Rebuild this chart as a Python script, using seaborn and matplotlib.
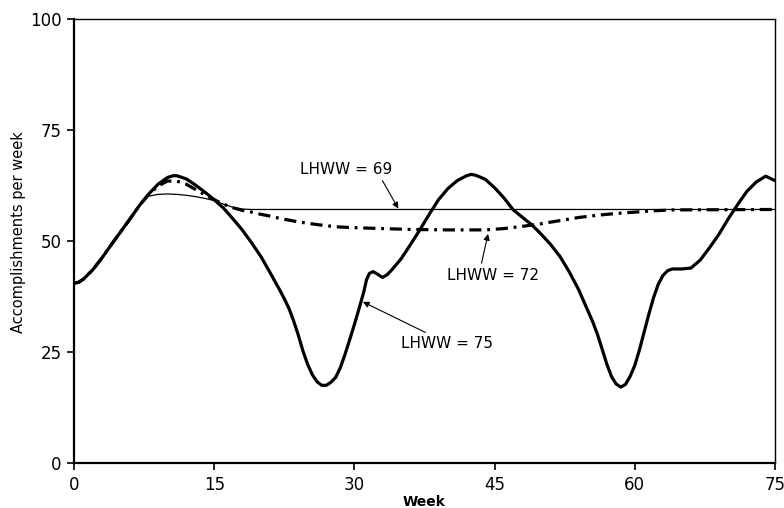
import matplotlib
matplotlib.use("Agg")
import matplotlib.pyplot as plt
import seaborn as sns
import pandas as pd

# ---- data ----
weeks_75 = [0, 0.5, 1, 2, 3, 4, 5, 6, 7, 8, 9, 10, 10.6, 11, 12, 13, 14, 15, 16, 17, 18,
            19, 20, 21, 22, 22.5, 23, 23.5, 24, 24.5, 25, 25.5, 26, 26.5, 27, 27.5, 28,
            28.5, 29, 29.5, 30, 30.5, 31, 31.3, 31.6, 32, 32.5, 33, 33.5, 34, 35, 36,
            37, 38, 39, 40, 41, 42, 42.5, 43, 44, 45, 46, 47, 48, 49, 50, 51, 52, 53,
            54, 55, 55.5, 56, 56.5, 57, 57.5, 58, 58.5, 59, 59.5, 60, 60.5, 61, 61.5,
            62, 62.5, 63, 63.5, 64, 65, 66, 67, 68, 69, 70, 71, 72, 73, 74, 75]
vals_75 = [40.5, 40.7, 41.4, 43.5, 46.2, 49.2, 52.1, 55.0, 58.0, 60.6, 62.8, 64.3, 64.7,
           64.7, 64.0, 62.6, 61.0, 59.3, 57.4, 55.0, 52.5, 49.6, 46.5, 42.8, 39.0, 37.0,
           34.8, 32.0, 28.8, 25.2, 22.2, 19.9, 18.3, 17.5, 17.5, 18.2, 19.3, 21.5, 24.5,
           27.8, 31.2, 34.8, 38.5, 41.3, 42.7, 43.1, 42.5, 41.8, 42.4, 43.5, 46.0, 49.2,
           52.5, 56.0, 59.3, 61.8, 63.6, 64.7, 65.0, 64.8, 63.9, 62.0, 59.7, 57.0, 55.3,
           53.6, 51.5, 49.2, 46.5, 43.0, 39.0, 34.2, 31.8, 29.0, 25.7, 22.3, 19.5, 17.8,
           17.1, 17.7, 19.5, 22.0, 25.5, 29.5, 33.5, 37.2, 40.2, 42.2, 43.3, 43.7, 43.7,
           43.9, 45.7, 48.5, 51.5, 55.0, 58.2, 61.2, 63.3, 64.6, 63.6]

weeks_69 = [0, 0.5, 1, 2, 3, 4, 5, 6, 7, 7.5, 8, 9, 10, 11, 12, 13, 14, 15, 16, 17, 18, 19,
            30, 45, 60, 75]
vals_69 = [40.5, 40.7, 41.4, 43.5, 46.2, 49.2, 52.1, 55.0, 58.0, 59.4, 60.1, 60.5, 60.6,
           60.5, 60.3, 60.0, 59.6, 59.1, 58.3, 57.6, 57.2, 57.1, 57.1, 57.1, 57.1, 57.1]

weeks_72 = [0, 0.5, 1, 2, 3, 4, 5, 6, 7, 8, 9, 10, 11, 12, 13, 14, 15, 16, 17, 18, 19, 20,
            21, 22, 24, 26, 28, 30, 33, 36, 40, 44, 46, 48, 50, 52, 54, 56, 58, 60, 62,
            64, 75]
vals_72 = [40.5, 40.7, 41.4, 43.5, 46.2, 49.2, 52.1, 55.0, 58.0, 60.5, 62.4, 63.5, 63.5,
           62.8, 61.6, 60.4, 59.3, 58.3, 57.5, 56.9, 56.5, 56.0, 55.6, 55.1, 54.3, 53.7,
           53.2, 53.0, 52.8, 52.6, 52.5, 52.5, 52.8, 53.3, 53.9, 54.6, 55.3, 55.8, 56.2,
           56.5, 56.8, 57.0, 57.1]

x_ticks = [0, 15, 30, 45, 60, 75]
y_ticks = [0, 25, 50, 75, 100]
x_label = "Week"
y_label = "Accomplishments per week"
labels = ["LHWW = 69", "LHWW = 72", "LHWW = 75"]

# ---- plot ----
sns.set_theme(style="ticks")
plt.rcParams["font.family"] = ["DejaVu Sans"]
plt.rcParams["text.color"] = "black"
plt.rcParams["axes.labelcolor"] = "black"

fig = plt.figure(figsize=(7.84, 5.08), dpi=100)
ax = fig.add_axes([74 / 784, 1 - 463 / 508, (775 - 74) / 784, (463 - 19) / 508])

df69 = pd.DataFrame({"week": weeks_69, "val": vals_69})
df72 = pd.DataFrame({"week": weeks_72, "val": vals_72})
df75 = pd.DataFrame({"week": weeks_75, "val": vals_75})

sns.lineplot(data=df69, x="week", y="val", ax=ax, color="black", linewidth=0.9,
             estimator=None, errorbar=None)
sns.lineplot(data=df72, x="week", y="val", ax=ax, color="black", linewidth=2.3,
             estimator=None, errorbar=None)
ax.lines[-1].set_linestyle((0, (3.8, 1.8, 0.9, 1.8)))
ax.lines[-1].set_dash_capstyle("butt")
sns.lineplot(data=df75, x="week", y="val", ax=ax, color="black", linewidth=2.3,
             estimator=None, errorbar=None)
ax.lines[-1].set_solid_joinstyle("round")
ax.lines[-1].set_solid_capstyle("round")

ax.set_xlim(0, 75)
ax.set_ylim(0, 100)
ax.set_xticks(x_ticks)
ax.set_yticks(y_ticks)
ax.tick_params(axis="both", direction="out", length=5, width=1.2, colors="black",
               labelsize=12, pad=4)
for s in ax.spines.values():
    s.set_visible(True)
    s.set_color("black")
    s.set_linewidth(1.0)
ax.spines["left"].set_linewidth(1.6)
ax.spines["bottom"].set_linewidth(1.6)

ax.set_xlabel(x_label, fontsize=10, fontweight="bold", labelpad=1)
ax.set_ylabel(y_label, fontsize=10.5)
ax.yaxis.set_label_coords(-0.068, 0.52)

arrow = dict(arrowstyle="-|>", color="black", lw=0.8, mutation_scale=9,
             shrinkA=0, shrinkB=0)
ax.text(29.1, 66.0, labels[0], fontsize=11, ha="center", va="center")
ax.annotate("", xy=(34.7, 57.3), xytext=(33.0, 63.6), arrowprops=arrow)

ax.text(44.8, 42.3, labels[1], fontsize=11, ha="center", va="center")
ax.annotate("", xy=(44.3, 51.6), xytext=(43.6, 45.0), arrowprops=arrow)

ax.text(39.9, 26.9, labels[2], fontsize=11, ha="center", va="center")
ax.annotate("", xy=(30.9, 36.3), xytext=(37.6, 29.4), arrowprops=arrow)

fig.savefig("out.png", dpi=100)
